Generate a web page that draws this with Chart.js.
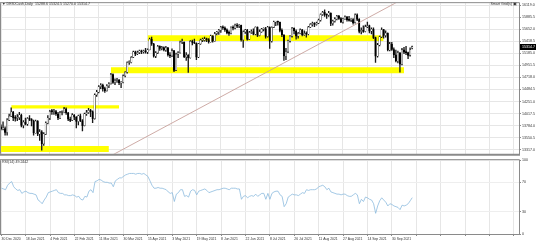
<!DOCTYPE html>
<html>
<head>
<meta charset="utf-8">
<script src="https://cdn.jsdelivr.net/npm/chart.js@4.4.0/dist/chart.umd.min.js"></script>
<style>
  html, body { margin: 0; padding: 0; background: #fff; }
  #wrap { position: relative; width: 536px; height: 242px; overflow: hidden; }
  #priceBox { position: absolute; left: 0; top: 0; width: 536px; height: 157px; }
  #rsiBox { position: absolute; left: 0; top: 157px; width: 536px; height: 85px; }
</style>
</head>
<body>
<div id="wrap">
  <div id="priceBox"><canvas id="priceChart"></canvas></div>
  <div id="rsiBox"><canvas id="rsiChart"></canvas></div>
</div>
<script>
// daily candles, 30 Dec 2020 .. 14 Oct 2021
const opens = [
  13760, 13719, 13726, 13651, 13892, 13968, 14049, 13937, 13925, 13940,
  13989, 13788, 13848, 13815, 13921, 13907, 13874, 13643, 13871, 13620,
  13665, 13433, 13622, 13835, 13933, 14060, 14057, 14059, 14011, 13933,
  14041, 14050, 14109, 14034, 13909, 13887, 13993, 13950, 13865, 13976,
  13879, 13786, 14012, 14039, 14080, 14056, 13920, 14380, 14437, 14540,
  14569, 14502, 14461, 14557, 14596, 14775, 14621, 14657, 14662, 14610,
  14621, 14748, 14818, 15008, 15008, 15107, 15212, 15176, 15202, 15234,
  15215, 15234, 15209, 15255, 15459, 15368, 15130, 15195, 15320, 15280,
  15296, 15249, 15292, 15154, 15136, 15236, 14856, 15170, 15197, 15400,
  15400, 15120, 15150, 15100, 15416, 15396, 15386, 15113, 15370, 15437,
  15437, 15465, 15450, 15406, 15520, 15421, 15567, 15603, 15632, 15693,
  15677, 15640, 15581, 15571, 15693, 15673, 15729, 15711, 15727, 15448,
  15603, 15636, 15456, 15589, 15607, 15554, 15690, 15531, 15603, 15650,
  15661, 15511, 15692, 15420, 15688, 15790, 15790, 15789, 15629, 15540,
  15133, 15216, 15422, 15514, 15669, 15618, 15519, 15571, 15640, 15544,
  15568, 15555, 15692, 15745, 15761, 15745, 15770, 15826, 15937, 15977,
  15925, 15922, 15965, 15765, 15808, 15852, 15906, 15860, 15793, 15851,
  15888, 15835, 15824, 15840, 15781, 15932, 15843, 15610, 15623, 15609,
  15701, 15722, 15616, 15652, 15490, 15132, 15348, 15506, 15644, 15531,
  15573, 15249, 15365, 15260, 15156, 15036, 15195, 14973, 15251, 15206,
  15199, 15146, 15289
]
const highs = [
  13800, 13860, 13760, 13920, 14010, 14131, 14060, 13980, 14000, 14040,
  14010, 13880, 13930, 13940, 13980, 13920, 13890, 13890, 13880, 13710,
  13690, 13650, 13860, 13980, 14080, 14100, 14100, 14080, 14040, 14060,
  14070, 14140, 14130, 14040, 13950, 14020, 14000, 13960, 13990, 14010,
  13900, 14030, 14080, 14120, 14100, 14070, 14400, 14470, 14560, 14600,
  14590, 14530, 14580, 14620, 14800, 14790, 14690, 14700, 14680, 14640,
  14770, 14830, 15020, 15040, 15120, 15230, 15230, 15230, 15250, 15250,
  15250, 15280, 15270, 15480, 15500, 15380, 15220, 15340, 15330, 15320,
  15310, 15320, 15300, 15200, 15270, 15240, 15190, 15220, 15420, 15460,
  15410, 15200, 15160, 15430, 15440, 15460, 15390, 15380, 15460, 15480,
  15500, 15480, 15470, 15540, 15530, 15590, 15610, 15650, 15710, 15720,
  15700, 15660, 15620, 15700, 15720, 15750, 15760, 15740, 15730, 15620,
  15650, 15650, 15610, 15640, 15660, 15700, 15700, 15640, 15670, 15680,
  15690, 15710, 15700, 15700, 15810, 15800, 15810, 15790, 15660, 15550,
  15280, 15440, 15530, 15690, 15680, 15640, 15590, 15660, 15650, 15620,
  15600, 15710, 15760, 15790, 15780, 15790, 15850, 15950, 16000, 16030,
  15950, 16000, 15970, 15830, 15880, 15920, 15920, 15880, 15870, 15910,
  15900, 15900, 15860, 15860, 15950, 15950, 15860, 15680, 15720, 15730,
  15790, 15730, 15680, 15680, 15500, 15380, 15520, 15680, 15650, 15620,
  15580, 15400, 15400, 15290, 15250, 15230, 15200, 15280, 15300, 15320,
  15210, 15290, 15325
]
const lows = [
  13700, 13700, 13600, 13600, 13880, 13960, 13880, 13870, 13880, 13900,
  13760, 13740, 13800, 13790, 13880, 13780, 13600, 13640, 13590, 13500,
  13310, 13400, 13610, 13820, 13900, 14000, 14000, 13980, 13900, 13920,
  13990, 14040, 14000, 13880, 13860, 13880, 13900, 13740, 13800, 13860,
  13680, 13780, 13980, 14020, 13960, 13840, 13910, 14350, 14420, 14500,
  14450, 14430, 14450, 14520, 14590, 14600, 14580, 14620, 14580, 14520,
  14610, 14730, 14800, 14970, 15000, 15100, 15140, 15160, 15180, 15180,
  15190, 15190, 15180, 15250, 15340, 15110, 15100, 15180, 15240, 15250,
  15230, 15220, 15130, 15100, 15120, 14830, 14850, 15100, 15190, 15370,
  15100, 15050, 14816, 15090, 15350, 15370, 15060, 15100, 15360, 15410,
  15420, 15410, 15380, 15400, 15400, 15420, 15540, 15550, 15590, 15650,
  15610, 15560, 15530, 15560, 15640, 15660, 15680, 15680, 15420, 15300,
  15570, 15440, 15450, 15570, 15540, 15540, 15510, 15520, 15590, 15620,
  15480, 15500, 15280, 15400, 15680, 15720, 15730, 15600, 15510, 15050,
  15060, 15200, 15400, 15500, 15560, 15460, 15480, 15560, 15520, 15530,
  15500, 15540, 15680, 15710, 15700, 15730, 15760, 15810, 15920, 15900,
  15860, 15900, 15720, 15730, 15790, 15830, 15840, 15780, 15770, 15840,
  15810, 15810, 15800, 15750, 15770, 15820, 15580, 15560, 15590, 15600,
  15680, 15580, 15560, 15470, 15010, 15110, 15330, 15490, 15480, 15500,
  15230, 15230, 15240, 15100, 15020, 15000, 14820, 14960, 15180, 15160,
  15080, 15130, 15270
]
const closes = [
  13719, 13726, 13651, 13892, 13968, 14049, 13937, 13925, 13940, 13989,
  13788, 13848, 13815, 13921, 13907, 13874, 13643, 13871, 13620, 13665,
  13433, 13622, 13835, 13933, 14060, 14057, 14059, 14011, 13933, 14041,
  14050, 14109, 14034, 13909, 13887, 13993, 13950, 13865, 13976, 13879,
  13786, 14012, 14039, 14080, 14056, 13920, 14380, 14437, 14540, 14569,
  14502, 14461, 14557, 14596, 14775, 14621, 14657, 14662, 14610, 14621,
  14748, 14818, 15008, 15008, 15107, 15212, 15176, 15202, 15234, 15215,
  15234, 15209, 15255, 15459, 15368, 15130, 15195, 15320, 15280, 15296,
  15249, 15292, 15154, 15136, 15236, 14856, 15170, 15197, 15400, 15400,
  15120, 15150, 15100, 15416, 15396, 15386, 15113, 15370, 15437, 15437,
  15465, 15450, 15406, 15520, 15421, 15567, 15603, 15632, 15693, 15677,
  15640, 15581, 15571, 15693, 15673, 15729, 15711, 15727, 15448, 15603,
  15636, 15456, 15589, 15607, 15554, 15690, 15531, 15603, 15650, 15661,
  15511, 15692, 15420, 15688, 15790, 15790, 15789, 15629, 15540, 15133,
  15216, 15422, 15514, 15669, 15618, 15519, 15571, 15640, 15544, 15568,
  15555, 15692, 15745, 15761, 15745, 15770, 15826, 15937, 15977, 15925,
  15922, 15965, 15765, 15808, 15852, 15906, 15860, 15793, 15851, 15888,
  15835, 15824, 15840, 15781, 15932, 15843, 15610, 15623, 15609, 15701,
  15722, 15616, 15652, 15490, 15132, 15348, 15506, 15644, 15531, 15573,
  15249, 15365, 15260, 15156, 15036, 15195, 14973, 15251, 15206, 15199,
  15146, 15250, 15315
]
// RSI(14)
const rsiValues = [
  62, 61, 60, 66, 69, 71, 64, 61, 59, 60,
  55, 57, 58, 56, 55, 55, 54, 53, 46, 44,
  41, 46, 50, 56, 57, 58, 59, 60, 56, 55,
  55, 53, 53, 52, 52, 53, 52, 50, 51, 47,
  46, 51, 50, 58, 60, 56, 71, 72, 74, 73,
  71, 70, 70, 69, 69, 64, 72, 74, 76, 76,
  78, 80, 81, 82, 82, 82, 81, 82, 82, 81,
  82, 80, 78, 72, 66, 62, 62, 63, 62, 62,
  61, 60, 57, 55, 56, 44, 54, 56, 60, 60,
  51, 52, 50, 58, 60, 59, 53, 58, 59, 60,
  61, 59, 56, 57, 58, 59, 60, 60, 61, 62,
  62, 61, 60, 62, 62, 62, 61, 61, 47, 51,
  52, 49, 51, 52, 51, 54, 51, 53, 55, 55,
  47, 55, 47, 55, 57, 58, 58, 53, 51, 37,
  41, 50, 52, 54, 53, 53, 52, 54, 56, 55,
  60, 59, 60, 60, 60, 61, 64, 65, 66, 64,
  60, 62, 57, 56, 55, 54, 54, 53, 54, 54,
  52, 51, 51, 53, 55, 53, 41, 47, 44, 50,
  49, 47, 46, 41, 28, 38, 45, 49, 46, 43,
  38, 41, 40, 38, 37, 36, 33, 39, 38, 39,
  41, 45, 49.24
]

const dateLabels = ['30 Dec 2020', '18 Jan 2021', '4 Feb 2021', '22 Feb 2021', '11 Mar 2021',
  '30 Mar 2021', '15 Apr 2021', '3 May 2021', '19 May 2021', '8 Jun 2021', '22 Jun 2021',
  '8 Jul 2021', '26 Jul 2021', '11 Aug 2021', '27 Aug 2021', '14 Sep 2021', '30 Sep 2021']
const priceTicks = [16119.0, 15885.5, 15652.0, 15418.5, 15185.0, 14951.5, 14718.0,
  14484.5, 14251.0, 14017.5, 13784.0, 13550.5, 13317.0]
const rsiTicks = [0, 30, 70, 100]

// yellow zones: bottom, lower-left, middle, top
const zoneStart = [0, 5, 54, 72]
const zoneEnd = [53, 58, 198, 188]
const zoneLow = [13276, 14114, 14801, 15422]
const zoneHigh = [13389, 14180, 14914, 15535]

// trend line end points (bar index, price)
const trendIdx = [54, 195]
const trendPrice = [13200, 16185]

const currentPrice = 15314.7
const titleText = '\u25BC DE30Cash,Daily  15288.6 15324.5 15270.0 15314.7'
const rsiTitle = 'RSI(14) 49.2442'

const totalSlots = 255
const slots = Array.from({ length: totalSlots }, (_, i) => i)
const tinyFont = { family: 'Liberation Sans', size: 3.6 }
const gridColor = '#e6e6e6'
const frameColor = '#8a8a8a'

const framePlugin = {
    id: 'frame',
    afterDraw(chart, args, opts) {
        const { ctx, chartArea: a } = chart
        ctx.save()
        ctx.strokeStyle = frameColor
        ctx.lineWidth = 1
        ctx.beginPath()
        ctx.moveTo(0, a.top - 0.5); ctx.lineTo(a.right + 0.5, a.top - 0.5)
        ctx.moveTo(a.right + 0.5, a.top - 0.5); ctx.lineTo(a.right + 0.5, a.bottom + 1)
        ctx.moveTo(0.5, a.top); ctx.lineTo(0.5, a.bottom)
        ctx.stroke()
        ctx.lineWidth = opts.bottomWidth || 1
        ctx.beginPath()
        ctx.moveTo(0, a.bottom + ctx.lineWidth / 2); ctx.lineTo(a.right + 1, a.bottom + ctx.lineWidth / 2)
        ctx.stroke()
        ctx.font = tinyFont.size + 'px "' + tinyFont.family + '"'
        ctx.fillStyle = '#333'
        ctx.textBaseline = 'middle';
        (opts.texts || []).forEach(t => {
            ctx.textAlign = t.align || 'left'
            ctx.fillText(t.text, t.x, t.y)
        })
        ctx.restore()
    }
}

const priceTagPlugin = {
    id: 'priceTag',
    afterDraw(chart) {
        const { ctx, chartArea: a } = chart
        const y = Math.round(chart.scales.y.getPixelForValue(currentPrice))
        ctx.save()
        ctx.fillStyle = '#000'
        ctx.fillRect(a.right + 1, y - 3, 17, 6)
        ctx.fillStyle = '#fff'
        ctx.font = tinyFont.size + 'px "' + tinyFont.family + '"'
        ctx.textBaseline = 'middle'
        ctx.fillText(currentPrice.toFixed(1), a.right + 3, y)
        ctx.restore()
    }
}

// zone datasets: upper edge, then lower edge filled up to it
const zoneSets = []
zoneStart.forEach((s, k) => {
    zoneSets.push({
        type: 'line', order: 10,
        data: [{ x: s, y: zoneHigh[k] }, { x: zoneEnd[k], y: zoneHigh[k] }],
        borderWidth: 0, pointRadius: 0, fill: false
    })
    zoneSets.push({
        type: 'line', order: 10,
        data: [{ x: s, y: zoneLow[k] }, { x: zoneEnd[k], y: zoneLow[k] }],
        borderWidth: 0, pointRadius: 0,
        fill: '-1', backgroundColor: '#ffff00'
    })
})

new Chart(document.getElementById('priceChart'), {
    type: 'bar',
    data: {
        labels: slots,
        datasets: [
            ...zoneSets,
            {
                type: 'bar', order: 2, grouped: false,
                data: lows.map((l, i) => [l, highs[i]]),
                backgroundColor: '#1a1a1a', barThickness: 0.7
            },
            {
                type: 'bar', order: 1, grouped: false,
                data: opens.map((o, i) => [o, closes[i]]),
                backgroundColor: opens.map((o, i) => closes[i] >= o ? '#ffffff' : '#000000'),
                borderColor: '#000', borderWidth: 0.35, borderSkipped: false,
                barThickness: 1.4, minBarLength: 1
            },
            {
                type: 'line', order: 0,
                data: [{ x: trendIdx[0], y: trendPrice[0] }, { x: trendIdx[1], y: trendPrice[1] }],
                borderColor: '#c8a29c', borderWidth: 0.9, pointRadius: 0, fill: false
            }
        ]
    },
    options: {
        responsive: true, maintainAspectRatio: false, animation: false,
        layout: { padding: { top: 1, bottom: 1, left: 0, right: 0 } },
        plugins: {
            legend: { display: false }, tooltip: { enabled: false },
            frame: {
                bottomWidth: 2,
                texts: [
                    { text: titleText, x: 2, y: 4 },
                    { text: 'Smart Grid(s) \u25A3', x: 517, y: 4, align: 'right' }
                ]
            }
        },
        scales: {
            x: {
                offset: true,
                ticks: { display: false, autoSkip: false },
                grid: { color: gridColor, offset: false, drawTicks: false },
                border: { display: false },
                afterBuildTicks: s => { s.ticks = s.ticks.filter(t => t.value % 12 === 0) }
            },
            y: {
                position: 'right', min: 13238, max: 16157,
                afterBuildTicks: s => { s.ticks = priceTicks.map(v => ({ value: v })) },
                afterFit: s => { s.width = 17 },
                ticks: { font: tinyFont, color: '#333', padding: 1, callback: v => v.toFixed(1) },
                grid: { color: gridColor, tickLength: 2, tickColor: frameColor },
                border: { display: false }
            }
        }
    },
    plugins: [framePlugin, priceTagPlugin]
})

new Chart(document.getElementById('rsiChart'), {
    type: 'line',
    data: {
        labels: slots,
        datasets: [{
            data: rsiValues,
            borderColor: '#8dbbde', borderWidth: 0.8, pointRadius: 0, tension: 0, fill: false
        }]
    },
    options: {
        responsive: true, maintainAspectRatio: false, animation: false,
        layout: { padding: { top: 2, bottom: 0, left: 0, right: 0 } },
        plugins: {
            legend: { display: false }, tooltip: { enabled: false },
            frame: { bottomWidth: 1, texts: [{ text: rsiTitle, x: 2, y: 5 }] }
        },
        scales: {
            x: {
                offset: true,
                afterBuildTicks: s => { s.ticks = s.ticks.filter(t => t.value % 12 === 0) },
                afterFit: s => { s.height = 8 },
                ticks: {
                    autoSkip: false, maxRotation: 0, minRotation: 0, align: 'start',
                    font: { family: 'Liberation Sans', size: 3.4 }, color: '#333', padding: 1.5,
                    callback: v => dateLabels[v / 12] || ''
                },
                grid: { color: gridColor, offset: false, tickLength: 2, tickColor: frameColor },
                border: { display: false }
            },
            y: {
                position: 'right', min: 0, max: 100,
                afterBuildTicks: s => { s.ticks = rsiTicks.map(v => ({ value: v })) },
                afterFit: s => { s.width = 17 },
                ticks: { font: tinyFont, color: '#333', padding: 1 },
                grid: { color: '#eeeeee', tickLength: 2, tickColor: frameColor },
                border: { display: false }
            }
        }
    },
    plugins: [framePlugin]
})
</script>
</body>
</html>
